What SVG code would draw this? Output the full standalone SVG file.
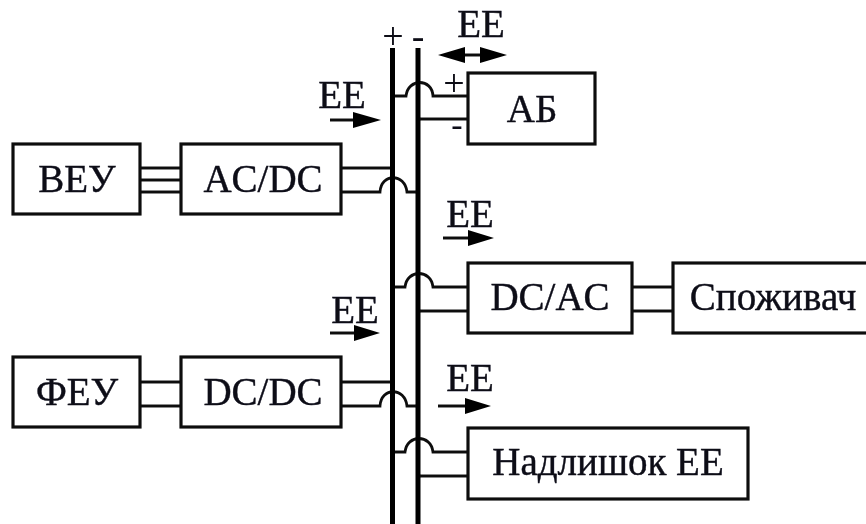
<svg xmlns="http://www.w3.org/2000/svg" width="866" height="524" viewBox="0 0 866 524">
<style>
.b{fill:#fff;stroke:#111;stroke-width:3.2}
.w{fill:none;stroke:#111;stroke-width:2.8}
.bus{fill:none;stroke:#000;stroke-width:5}
text{font-family:"Liberation Serif","Times New Roman",serif;font-size:39px;fill:#0c0c18;stroke:#0c0c18;stroke-width:.4;text-anchor:middle}
.sm{font-size:34px;stroke:none}
.f{fill:#000;stroke:none}
</style>
<defs>
<filter id="soft" x="-5%" y="-5%" width="110%" height="110%"><feGaussianBlur stdDeviation="0.55"/></filter>
</defs>
<rect width="866" height="524" fill="#fff"/>
<g filter="url(#soft)">
<g id="connectors">
<path class="w" d="M140 168H181M140 180H181M140 192H181"/>
<path class="w" d="M341 168H392M341 192H380C381 173 405 173 407 192H418"/>
<path class="w" d="M393 96H406C408 78 432 78 433 96H468M418 119H468"/>
<path class="w" d="M392 287H405C407 269 431 269 433 287H468M418 311H468"/>
<path class="w" d="M632 287H673M632 311H673"/>
<path class="w" d="M140 382H181M140 406H181"/>
<path class="w" d="M341 382H392M341 406H380C381 387 405 387 407 406H418"/>
<path class="w" d="M392 452H405C407 434 431 434 433 452H468M418 476H468"/>
<path class="bus" d="M392.500 48V524M418 48V524"/>
<path class="w" d="M460 55H486M330 120H356M443 238H470M330 333H356M438 406H466"/>
<path class="f" d="M353 112L381 120L353 128ZM468 230L494 238L468 246ZM354 325L380 333L354 341ZM465 398L491 406L465 414ZM438 55L465 47V63ZM507 55L480 47V63Z"/>
</g>
<g id="node-veu"><rect class="b" x="13" y="144" width="127" height="70"/><text x="77" y="192">ВЕУ</text></g>
<g id="node-acdc"><rect class="b" x="181" y="144" width="160" height="70"/><text x="263" y="192">AC/DC</text></g>
<g id="node-feu"><rect class="b" x="13" y="357" width="127" height="70"/><text x="77" y="405">ФЕУ</text></g>
<g id="node-dcdc"><rect class="b" x="181" y="357" width="160" height="70"/><text x="263" y="405">DC/DC</text></g>
<g id="node-ab"><rect class="b" x="468" y="73" width="127" height="71"/><text x="532" y="122">АБ</text></g>
<g id="node-dcac"><rect class="b" x="468" y="263" width="164" height="70"/><text x="550" y="310">DC/AC</text></g>
<g id="node-consumer"><rect class="b" x="673" y="263" width="220" height="70"/><text x="773" y="310">Споживач</text></g>
<g id="node-excess"><rect class="b" x="468" y="428" width="280" height="71"/><text x="608" y="475">Надлишок ЕЕ</text></g>
<g id="labels">
<text x="393" y="49" class="sm" style="font-size:38px">+</text>
<text x="418" y="49" class="sm" style="font-size:38px">-</text>
<text x="481" y="37">ЕЕ</text>
<text x="342" y="108">ЕЕ</text>
<text x="470" y="227">ЕЕ</text>
<text x="355" y="323">ЕЕ</text>
<text x="470" y="391">ЕЕ</text>
<text x="454" y="96" class="sm" style="font-size:38px">+</text>
<text x="457" y="136" class="sm">-</text>
</g>
</g>
</svg>
